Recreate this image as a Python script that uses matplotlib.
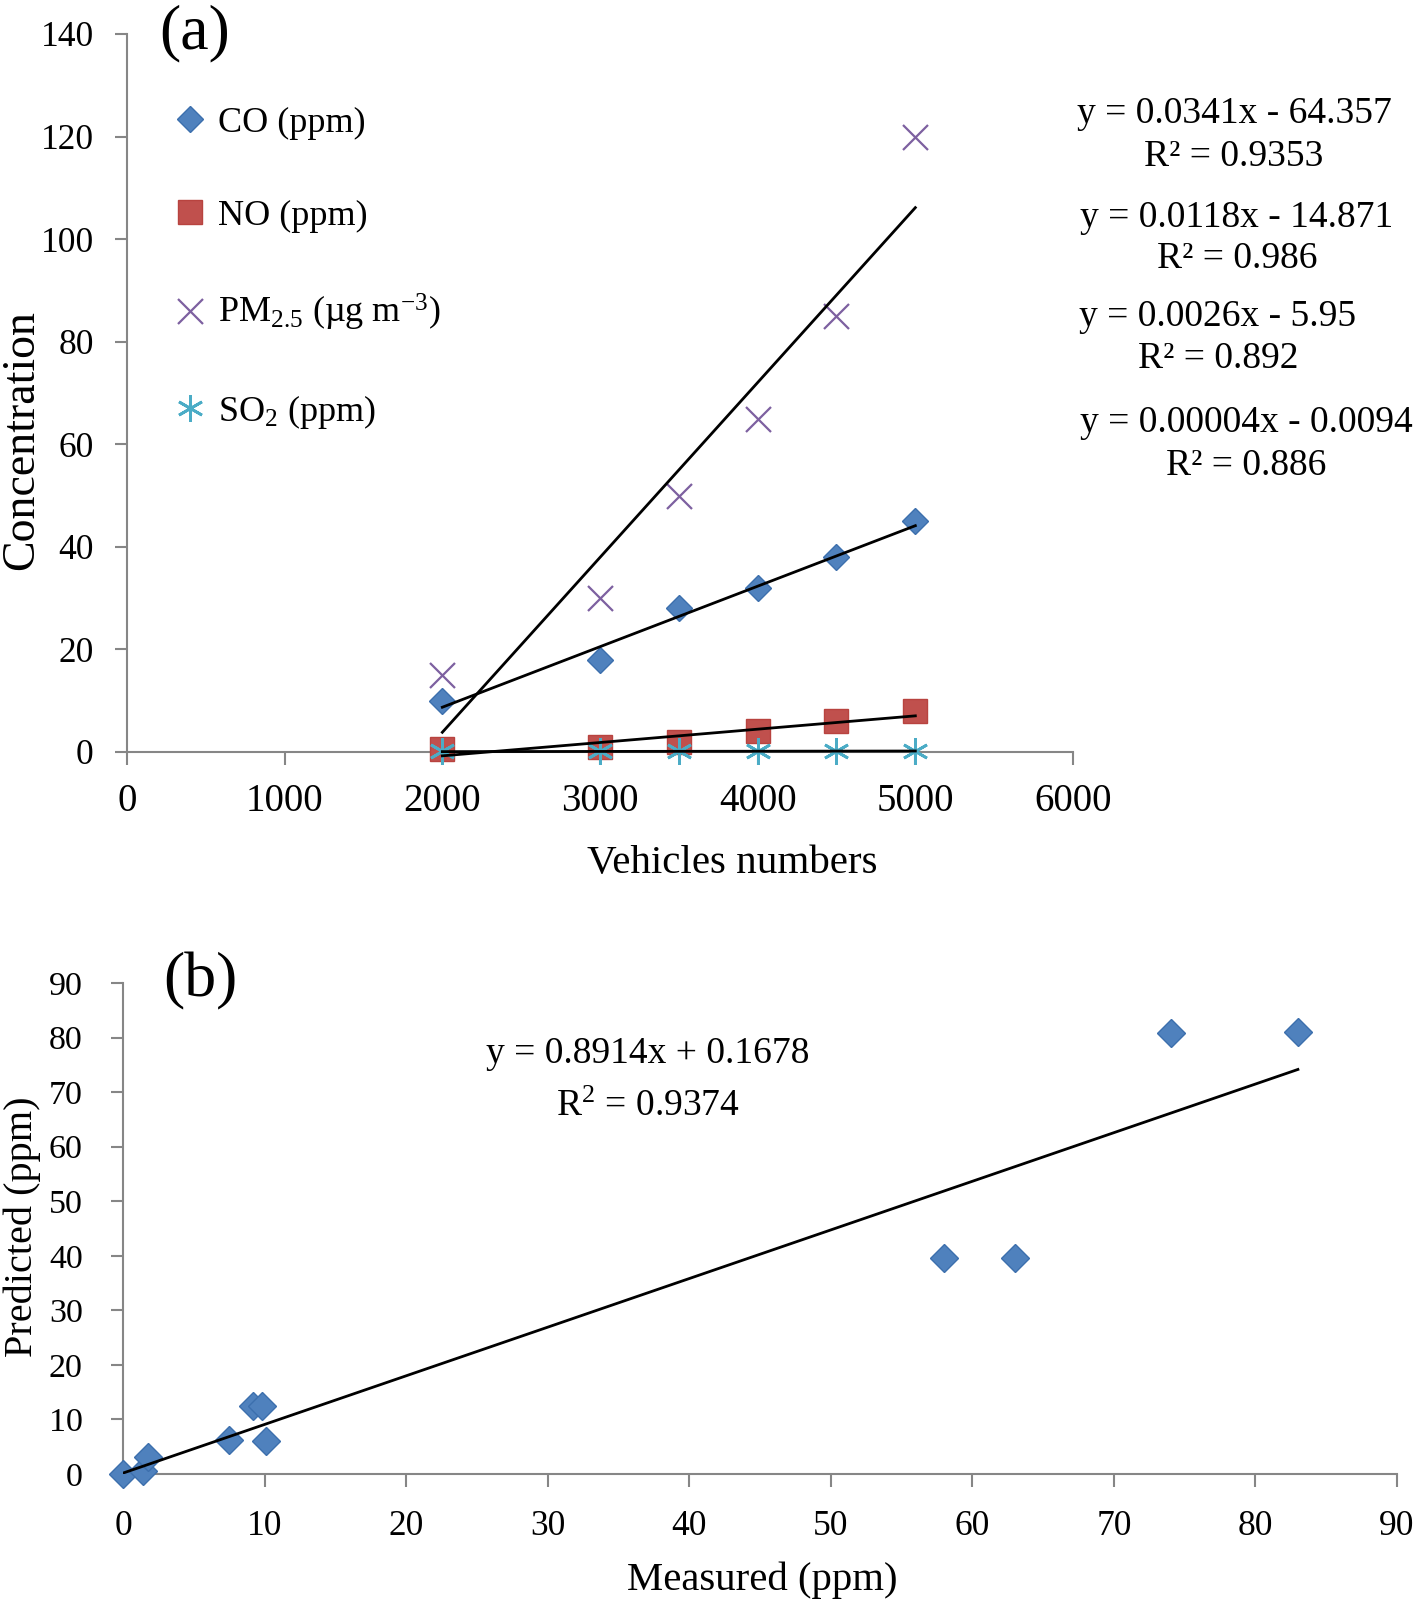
import numpy as np
import matplotlib
matplotlib.use("Agg")
import matplotlib.pyplot as plt

plt.rcParams['font.family'] = ['Liberation Serif', 'DejaVu Serif']
plt.rcParams['mathtext.fontset'] = 'custom'
plt.rcParams['mathtext.rm'] = 'Liberation Serif'
plt.rcParams['mathtext.it'] = 'Liberation Serif:italic'

# ---------- data panel (a) ----------
vehicles = [2000, 3000, 3500, 4000, 4500, 5000]
co = [10, 18, 28, 32, 38, 45]
no = [0.5, 1, 2, 4, 6, 8]
pm25 = [15, 30, 50, 65, 85, 120]
so2 = [0.1, 0.1, 0.1, 0.1, 0.1, 0.1]
series_labels = ['CO (ppm)', 'NO (ppm)', 'PM$_{2.5}$ (µg m$^{-3}$)', 'SO$_2$ (ppm)']
fit_slopes_a = [0.0341, 0.0118, 0.0026, 0.00004]       # PM2.5, CO, NO, SO2
fit_intercepts_a = [-64.357, -14.871, -5.95, -0.0094]
eq_lines_a = ['y = 0.0341x - 64.357', 'y = 0.0118x - 14.871',
              'y = 0.0026x - 5.95', 'y = 0.00004x - 0.0094']
r2_lines_a = ['R² = 0.9353', 'R² = 0.986', 'R² = 0.892', 'R² = 0.886']
xticks_a = [0, 1000, 2000, 3000, 4000, 5000, 6000]
yticks_a = [0, 20, 40, 60, 80, 100, 120, 140]

# ---------- data panel (b) ----------
measured = [0, 1.4, 1.8, 7.5, 9.2, 9.8, 10.1, 58, 63, 74, 83]
predicted = [0, 0.5, 3.2, 6.2, 12.4, 12.4, 6.1, 39.6, 39.6, 80.9, 81]
fit_slope_b = 0.8914
fit_intercept_b = 0.1678
eq_b = 'y = 0.8914x + 0.1678'
r2_b = 'R$^2$ = 0.9374'
ticks_b = [0, 10, 20, 30, 40, 50, 60, 70, 80, 90]

W, H = 1418, 1605
fig = plt.figure(figsize=(W / 100, H / 100), dpi=100)

def fx(px):
    return px / W

def fy(py):
    return 1 - py / H

spine_col = '#868686'
blue = '#4F81BD'
blue_edge = '#3C6FAD'
red = '#C0504D'
purple = '#7D60A0'
cyan = '#4BACC6'

# ---------- panel (a) ----------
ax = fig.add_axes([fx(127), fy(752), fx(1073) - fx(127), fy(34) - fy(752)])
ax.set_xlim(0, 6000)
ax.set_ylim(0, 140)

h_co, = ax.plot(vehicles, co, linestyle='none', marker='D', ms=13.5,
                mfc=blue, mec=blue_edge, mew=1.0, label=series_labels[0], clip_on=False, zorder=3)
h_no, = ax.plot(vehicles, no, linestyle='none', marker='s', ms=17,
                mfc=red, mec='#B8433F', mew=1.0, label=series_labels[1], clip_on=False, zorder=3)
h_pm, = ax.plot(vehicles, pm25, linestyle='none', marker='x', ms=18,
                mec=purple, mew=1.6, label=series_labels[2], clip_on=False, zorder=3)
h_so, = ax.plot(vehicles, so2, linestyle='none', marker=(6, 2, 0), ms=19,
                mec=cyan, mew=2.0, label=series_labels[3], clip_on=False, zorder=3)

xs = np.array([min(vehicles), max(vehicles)])
for m, b in zip(fit_slopes_a, fit_intercepts_a):
    ax.plot(xs, m * xs + b, color='black', lw=2.0, zorder=4, clip_on=False)

for s in ['top', 'right']:
    ax.spines[s].set_visible(False)
for s in ['left', 'bottom']:
    ax.spines[s].set_color(spine_col)
    ax.spines[s].set_linewidth(1.5)
ax.set_xticks(xticks_a)
ax.set_yticks(yticks_a)
ax.tick_params(axis='both', direction='out', color=spine_col, width=1.5,
               length=9, labelcolor='black')
ax.tick_params(axis='y', pad=15, labelsize=25.5)
ax.tick_params(axis='x', pad=13, labelsize=28)

ax.set_xlabel('Vehicles numbers', fontsize=29.5)
ax.xaxis.set_label_coords(0.6395, -0.155)
ax.xaxis.label.set_va('center')
ax.set_ylabel('Concentration', fontsize=33)
ax.yaxis.set_label_coords(-0.111, 0.434)
ax.yaxis.label.set_va('center')

leg = ax.legend(handles=[h_co, h_no, h_pm, h_so], loc='upper left',
                bbox_to_anchor=(0.048, 0.899), frameon=False, fontsize=26,
                handlelength=1.0, handletextpad=0.25, labelspacing=1.65,
                borderpad=0, borderaxespad=0, markerscale=1.0)
for t in leg.get_texts():
    t.set_color('black')

fig.text(fx(195), fy(33), '(a)', fontsize=46, ha='center', va='center')

eq_cx = [1234, 1237, 1218, 1246]
eq_y = [114, 218, 317, 423]
r2_y = [157, 259, 359, 466]
for cx, ey, ry, e, r in zip(eq_cx, eq_y, r2_y, eq_lines_a, r2_lines_a):
    fig.text(fx(cx), fy(ey), e, fontsize=27, ha='center', va='center')
    fig.text(fx(cx), fy(ry), r, fontsize=27, ha='center', va='center')

# ---------- panel (b) ----------
bx = fig.add_axes([fx(123), fy(1474), fx(1397) - fx(123), fy(983) - fy(1474)])
bx.set_xlim(0, 90)
bx.set_ylim(0, 90)
bx.plot(measured, predicted, linestyle='none', marker='D', ms=14.5,
        mfc=blue, mec=blue_edge, mew=1.0, clip_on=False, zorder=3)
xb = np.array([0, max(measured)])
bx.plot(xb, fit_slope_b * xb + fit_intercept_b, color='black', lw=2.0, zorder=4)
for s in ['top', 'right']:
    bx.spines[s].set_visible(False)
for s in ['left', 'bottom']:
    bx.spines[s].set_color(spine_col)
    bx.spines[s].set_linewidth(1.5)
bx.set_xticks(ticks_b)
bx.set_yticks(ticks_b)
bx.tick_params(axis='both', direction='out', color=spine_col, width=1.5,
               length=9, labelcolor='black')
bx.tick_params(axis='y', pad=20, labelsize=24.5)
bx.tick_params(axis='x', pad=17, labelsize=25.5)
bx.set_xlabel('Measured (ppm)', fontsize=29.3)
bx.xaxis.set_label_coords(0.502, -0.216)
bx.xaxis.label.set_va('center')
bx.set_ylabel('Predicted (ppm)', fontsize=29)
bx.yaxis.set_label_coords(-0.079, 0.503)
bx.yaxis.label.set_va('center')

fig.text(fx(200), fy(981), '(b)', fontsize=46, ha='center', va='center')
fig.text(fx(648), fy(1054), eq_b, fontsize=27, ha='center', va='center')
fig.text(fx(648), fy(1107), r2_b, fontsize=27, ha='center', va='center')

fig.savefig('out.png', dpi=100)
